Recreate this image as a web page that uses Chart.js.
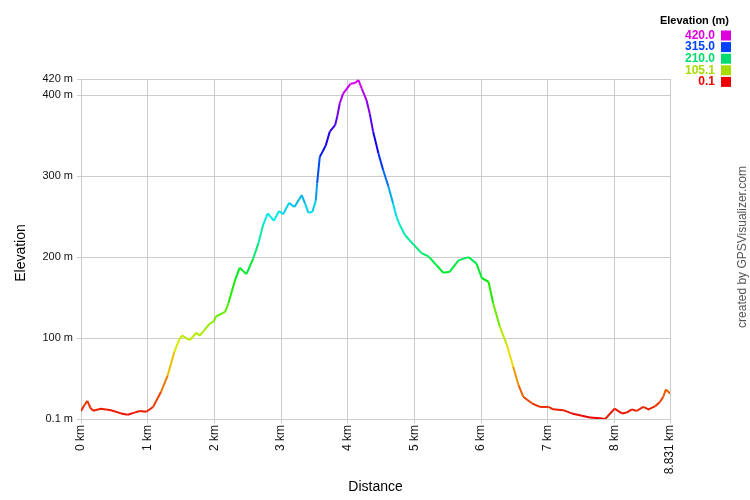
<!DOCTYPE html>
<html>
<head>
<meta charset="utf-8">
<title>Elevation profile</title>
<script src="https://cdn.jsdelivr.net/npm/chart.js@4/dist/chart.umd.min.js"></script>
<style>
	html, body { margin: 0; padding: 0; background: #fff; }
	canvas { display: block; }
</style>
</head>
<body>
<canvas id="chart" width="750" height="500"></canvas>
<script>
// distance along the track (km) and elevation (m)
const distances = [
	0.00, 0.05, 0.095, 0.14, 0.18, 0.30, 0.45, 0.60, 0.70, 0.80, 0.88, 0.98,
	1.08, 1.20, 1.30, 1.40, 1.48, 1.52, 1.63, 1.73, 1.78, 1.85, 1.93, 1.98,
	2.03, 2.16, 2.21, 2.31, 2.38, 2.48, 2.58, 2.66, 2.73, 2.80, 2.89, 2.97,
	3.03, 3.12, 3.20, 3.31, 3.36, 3.41, 3.47, 3.52, 3.54, 3.58, 3.62, 3.67,
	3.73, 3.81, 3.84, 3.88, 3.93, 4.04, 4.11, 4.16, 4.21, 4.28, 4.33, 4.38,
	4.46, 4.53, 4.61, 4.68, 4.73, 4.78, 4.86, 4.98, 5.11, 5.21, 5.33, 5.43,
	5.53, 5.66, 5.81, 5.93, 6.01, 6.11, 6.18, 6.28, 6.38, 6.48, 6.56, 6.63,
	6.76, 6.88, 7.01, 7.08, 7.23, 7.36, 7.51, 7.63, 7.78, 7.86, 8.00, 8.11,
	8.18, 8.26, 8.33, 8.43, 8.51, 8.61, 8.68, 8.73, 8.77, 8.831
];
const elevations = [
	10, 17, 22.6, 14, 10.4, 12.8, 11, 7, 5.4, 8, 10, 9,
	15, 33.7, 54, 83, 99.6, 103, 97.6, 106.6, 103, 110, 118, 120,
	127, 132.5, 143, 171.7, 187, 179, 198, 217, 239.6, 254, 245, 257,
	253, 267, 262, 276.6, 266, 254.7, 256, 270, 291, 324, 330, 338,
	355, 363, 373, 390, 402, 414, 415, 418.7, 408, 394, 377, 355,
	328, 307.6, 287, 266, 250, 239.6, 227, 216, 204.6, 201, 190, 180.8,
	182, 196, 200, 192, 174, 169.6, 143, 114, 93, 64.6, 42, 27.6,
	19.5, 15, 15, 12, 11, 7, 4, 2, 1, 0.1, 13, 7,
	8, 12, 10, 15, 12, 16, 21, 27.6, 36.6, 31.7
];

const xTicks = [0, 1, 2, 3, 4, 5, 6, 7, 8, 8.831];
const yTicks = [0.1, 100, 200, 300, 400, 420];

const legendValues = ["420.0", "315.0", "210.0", "105.1", "0.1"];
const legendColors = ["#dd00dd", "#0040ff", "#00dc6e", "#a6dc00", "#ee0000"];

const minElev = 0.1;
const maxElev = 420;

// red at the bottom through to magenta at the top
const colorFor = elev => {
	const t = Math.min(Math.max((elev - minElev) / (maxElev - minElev), 0), 1);
	return `hsl(${Math.round(t * 300)}, 100%, 46%)`;
};

const FONT = "'Liberation Sans', Arial, sans-serif";

const extras = {
	id: "extras",
	afterDraw(chart) {
		const ctx = chart.ctx;
		const area = chart.chartArea;
		ctx.save();

		// axis titles
		ctx.fillStyle = "#000";
		ctx.font = `14px ${FONT}`;
		ctx.textAlign = "center";
		ctx.textBaseline = "middle";
		ctx.fillText("Distance", (area.left + area.right) / 2, 487);
		ctx.save();
		ctx.translate(21, 253);
		ctx.rotate(-Math.PI / 2);
		ctx.fillText("Elevation", 0, 0);
		ctx.restore();

		// colour key
		ctx.textAlign = "right";
		ctx.font = `bold 11px ${FONT}`;
		ctx.fillText("Elevation (m)", 729, 21);
		ctx.font = `bold 12px ${FONT}`;
		legendValues.forEach((label, i) => {
			const y = 35.5 + i * 11.6;
			ctx.fillStyle = legendColors[i];
			ctx.fillText(label, 715, y);
			ctx.fillRect(721, y - 5, 10, 10);
		});

		// credit
		ctx.fillStyle = "#555";
		ctx.font = `12px ${FONT}`;
		ctx.textAlign = "center";
		ctx.save();
		ctx.translate(743, 247);
		ctx.rotate(-Math.PI / 2);
		ctx.fillText("created by GPSVisualizer.com", 0, 0);
		ctx.restore();

		ctx.restore();
	}
};

new Chart(document.getElementById("chart"), {
	type: "line",
	data: {
		datasets: [
			{
				data: distances.map((d, i) => ({ x: d, y: elevations[i] })),
				borderWidth: 2,
				borderColor: "#ee0000",
				pointRadius: 0,
				tension: 0,
				segment: {
					borderColor: c => colorFor((c.p0.parsed.y + c.p1.parsed.y) / 2)
				}
			}
		]
	},
	options: {
		responsive: false,
		animation: false,
		layout: {
			padding: { top: 79, right: 80, left: 0, bottom: 0 }
		},
		plugins: {
			legend: { display: false },
			tooltip: { enabled: false }
		},
		scales: {
			x: {
				type: "linear",
				min: 0,
				max: 8.831,
				afterBuildTicks(scale) {
					scale.ticks = xTicks.map(v => ({ value: v }));
				},
				afterFit(scale) {
					scale.height = 81;
				},
				grid: { color: "#cccccc", tickLength: 4 },
				border: { color: "#cccccc" },
				ticks: {
					autoSkip: false,
					minRotation: 90,
					maxRotation: 90,
					padding: 2,
					color: "#111",
					font: { family: FONT, size: 12 },
					callback: v => `${v} km`
				}
			},
			y: {
				type: "linear",
				min: minElev,
				max: maxElev,
				afterBuildTicks(scale) {
					scale.ticks = yTicks.map(v => ({ value: v }));
				},
				afterFit(scale) {
					scale.width = 81;
				},
				grid: { color: "#cccccc", tickLength: 4 },
				border: { color: "#cccccc" },
				ticks: {
					autoSkip: false,
					padding: 4,
					color: "#111",
					font: { family: FONT, size: 11 },
					callback: v => `${v} m`
				}
			}
		}
	},
	plugins: [extras]
});
</script>
</body>
</html>
